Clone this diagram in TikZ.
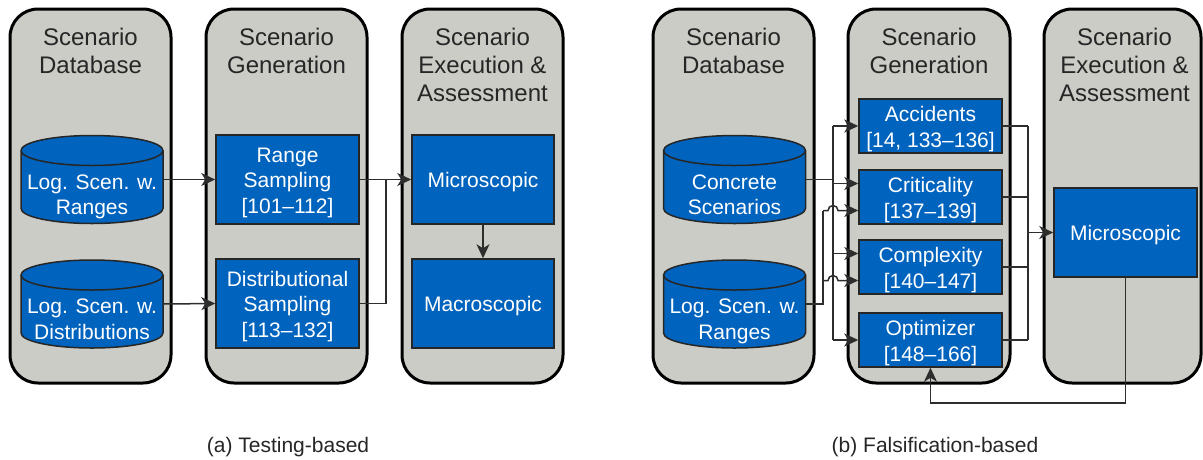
\documentclass[tikz,border=0pt]{standalone}
\usepackage{fontspec}
\setmainfont{Liberation Sans}
\usetikzlibrary{arrows.meta,calc}
\definecolor{colgray}{RGB}{204,204,199}
\definecolor{bblue}{RGB}{0,99,190}
\definecolor{dtext}{RGB}{38,38,38}
\definecolor{lcol}{RGB}{45,45,45}
\tikzset{
  colbox/.style={draw=black, line width=3pt, fill=colgray, rounded corners=28pt},
  bluebox/.style={draw=black!85, line width=1.5pt, fill=bblue, minimum width=143pt, inner sep=0pt},
  cylnode/.style={minimum width=142pt, minimum height=88pt, inner sep=0pt},
  cylfill/.style={draw=black!85, line width=1.5pt, fill=bblue},
  wtext/.style={text=white, align=center, inner sep=0pt, font=\fontsize{21}{25.5}\selectfont},
  ttext/.style={text=dtext, align=center, inner sep=0pt, font=\fontsize{24}{28}\selectfont},
  captext/.style={text=dtext, inner sep=0pt, font=\fontsize{21}{25}\selectfont},
  conn/.style={draw=lcol, line width=1.5pt},
  arr/.style={conn, -{Stealth[length=14pt,width=13pt,inset=4pt]}},
}
\newcommand\drawcyl[4]{%
  \path[cylfill] (#2-71,#3+29) -- (#2-71,#3-29)
     arc[start angle=180,end angle=360,x radius=71pt,y radius=15pt]
     -- (#2+71,#3+29)
     arc[start angle=0,end angle=180,x radius=71pt,y radius=15pt] -- cycle;
  \draw[draw=black!85, line width=1.5pt] (#2-71,#3+29)
     arc[start angle=180,end angle=360,x radius=71pt,y radius=15pt];
  \node[cylnode] (#1) at (#2,#3) {};
  \node[wtext, anchor=north] (#1t) at (#2,#3+5) {#4};
}
\begin{document}
\begin{tikzpicture}[x=1pt,y=1pt]
\useasboundingbox (0,0) rectangle (1203,-459);

% ---------- panel (a) ----------
\draw[colbox] (10,-9) rectangle (171,-383);
\draw[colbox] (206,-9) rectangle (367,-383);
\draw[colbox] (402,-9) rectangle (563,-383);
\node[ttext, anchor=north] (ta1) at (90.5,-28) {Scenario\\Database};
\node[ttext, anchor=north] (ta2) at (286.5,-28) {Scenario\\Generation};
\node[ttext, anchor=north] (ta3) at (482.5,-28) {Scenario\\Execution \&\\Assessment};

\drawcyl{ca1}{92}{-179.5}{Log. Scen. w.\\Ranges}
\drawcyl{ca2}{92}{-304}{Log. Scen. w.\\Distributions}

\node[bluebox, minimum height=89pt] (rs) at (287.5,-179.5) {};
\node[wtext] (rst) at ([yshift=-3pt]rs.center) {Range\\Sampling\\{[101--112]}};
\node[bluebox, minimum height=89pt] (ds) at (287.5,-303.5) {};
\node[wtext] (dst) at ([yshift=-3pt]ds.center) {Distributional\\Sampling\\{[113--132]}};

\node[bluebox, minimum width=142pt, minimum height=89pt] (mia) at (483,-179.5) {};
\node[wtext] (miat) at ([yshift=-3pt]mia.center) {Microscopic};
\node[bluebox, minimum width=142pt, minimum height=89pt] (maa) at (483,-303.5) {};
\node[wtext] (maat) at ([yshift=-3pt]maa.center) {Macroscopic};

\coordinate (ja) at (386,-179.5);
\draw[arr] (ca1.east) -- (rs.west);
\draw[arr] (ca2.east) -- (ds.west);
\draw[arr] (rs.east) -- (mia.west);
\draw[conn] (ds.east) -| (ja);
\draw[arr] (mia.south) -- (maa.north);

\node[captext, anchor=base] (capa) at (288,-452) {(a) Testing-based};

% ---------- panel (b) ----------
\draw[colbox] (653,-9) rectangle (814,-383);
\draw[colbox] (848,-9) rectangle (1010,-383);
\draw[colbox] (1044,-9) rectangle (1201,-383);
\node[ttext, anchor=north] (tb1) at (733.5,-28) {Scenario\\Database};
\node[ttext, anchor=north] (tb2) at (929,-28) {Scenario\\Generation};
\node[ttext, anchor=north] (tb3) at (1124.5,-28) {Scenario\\Execution \&\\Assessment};

\drawcyl{cb1}{734.5}{-179.5}{Concrete\\Scenarios}
\drawcyl{cb2}{734.5}{-304}{Log. Scen. w.\\Ranges}

\node[bluebox, minimum height=54pt] (acc) at (930.5,-126) {};
\node[wtext] (acct) at ([yshift=-3pt]acc.center) {Accidents\\{[14, 133--136]}};
\node[bluebox, minimum height=54pt] (crit) at (930.5,-197) {};
\node[wtext] (critt) at ([yshift=-3pt]crit.center) {Criticality\\{[137--139]}};
\node[bluebox, minimum height=54pt] (comp) at (930.5,-267) {};
\node[wtext] (compt) at ([yshift=-3pt]comp.center) {Complexity\\{[140--147]}};
\node[bluebox, minimum height=54pt] (opt) at (930.5,-340) {};
\node[wtext] (optt) at ([yshift=-3pt]opt.center) {Optimizer\\{[148--166]}};

\node[bluebox, minimum height=89pt] (mib) at (1125.5,-232.5) {};
\node[wtext] (mibt) at ([yshift=-3pt]mib.center) {Microscopic};

% inputs from concrete scenarios
\coordinate (v1) at (833,-126);
\coordinate (v2) at (833,-183.5);
\coordinate (v3) at (833,-253.5);
\coordinate (v4) at (833,-340);
\draw[conn] (cb1.east) -- (cb1.east -| v1);
\draw[conn] (v1) -- (v4);
\draw[arr] (v1) -- (acc.west);
\draw[arr] (v2) -- ([yshift=13.5pt]crit.west);
\draw[arr] (v3) -- ([yshift=13.5pt]comp.west);
\draw[arr] (v4) -- (opt.west);
% inputs from logical scenarios with ranges
\coordinate (w1) at (823,-210.5);
\coordinate (w2) at (823,-280.5);
\draw[conn] (cb2.east) -| (w1);
\draw[arr] (w1) -- ++(5,0) arc[start angle=180,end angle=0,radius=5pt] -- ([yshift=-13.5pt]crit.west);
\draw[arr] (w2) -- ++(5,0) arc[start angle=180,end angle=0,radius=5pt] -- ([yshift=-13.5pt]comp.west);
% outputs
\coordinate (o1) at (1028,-126);
\coordinate (o4) at (1028,-340);
\draw[conn] (acc.east) -- (acc.east -| o1);
\draw[conn] (crit.east) -- (crit.east -| o1);
\draw[conn] (comp.east) -- (comp.east -| o1);
\draw[conn] (opt.east) -- (opt.east -| o1);
\draw[conn] (o1) -- (o4);
\draw[arr] (o1 |- mib.west) -- (mib.west);
% feedback
\draw[arr] (mib.south) -- ++(0,-125) -| (opt.south);

\node[captext, anchor=base] (capb) at (935,-452) {(b) Falsification-based};
\end{tikzpicture}
\end{document}
